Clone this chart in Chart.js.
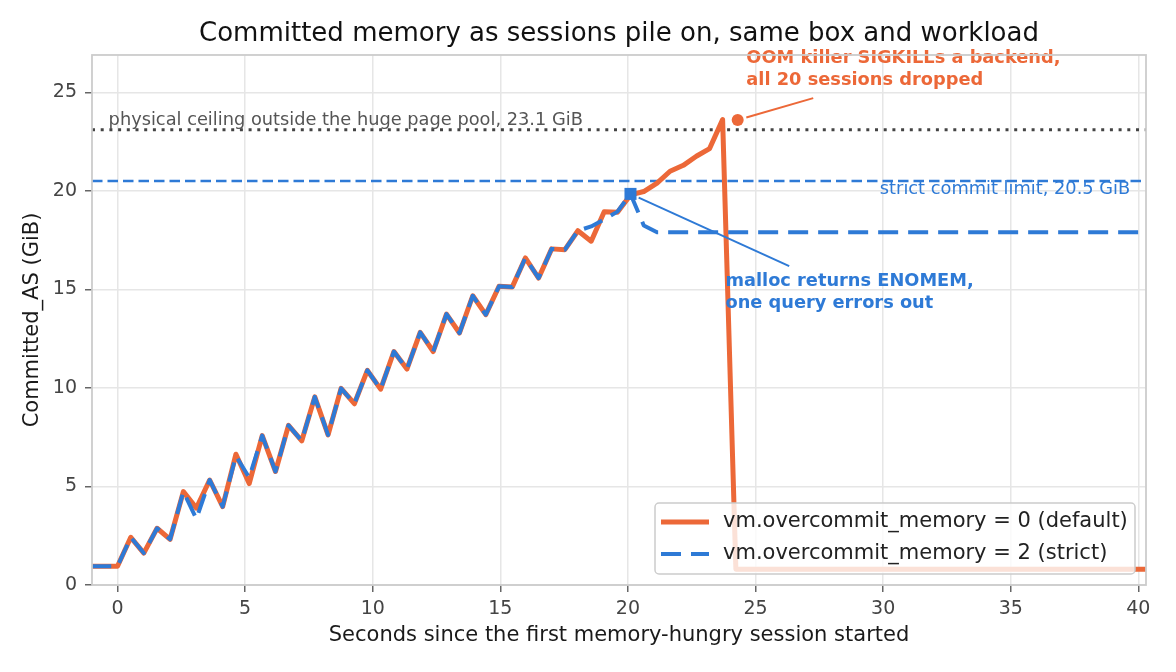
<!DOCTYPE html>
<html><head><meta charset="utf-8">
<script src="https://cdn.jsdelivr.net/npm/chart.js@4.4.1/dist/chart.umd.min.js"></script>
<style>html,body{margin:0;padding:0;background:#fff;}</style>
</head><body>
<canvas id="c" width="1176" height="672" style="width:1176px;height:672px;display:block"></canvas>
<script>
// ---------- data ----------
const titleText = 'Committed memory as sessions pile on, same box and workload';
const xTitle = 'Seconds since the first memory-hungry session started';
const yTitle = 'Committed_AS (GiB)';
const xTicks = [0, 5, 10, 15, 20, 25, 30, 35, 40];
const yTicks = [0, 5, 10, 15, 20, 25];

const defaultLabel = 'vm.overcommit_memory = 0 (default)';
const defaultTimes = [-1.03, -0.52, 0, 0.52, 1.03, 1.55, 2.06, 2.58, 3.09, 3.61, 4.12, 4.64, 5.16, 5.67, 6.19, 6.70, 7.22, 7.73, 8.25, 8.76, 9.28, 9.79, 10.31, 10.83, 11.34, 11.86, 12.37, 12.89, 13.40, 13.92, 14.43, 14.95, 15.47, 15.98, 16.50, 17.01, 17.53, 18.04, 18.56, 19.07, 19.59, 20.10, 20.62, 21.14, 21.65, 22.17, 22.68, 23.20, 23.71, 24.23, 40.5];
const defaultValues = [0.95, 0.95, 0.95, 2.42, 1.62, 2.88, 2.32, 4.74, 3.90, 5.33, 3.98, 6.64, 5.15, 7.58, 5.76, 8.10, 7.32, 9.55, 7.62, 9.98, 9.20, 10.89, 9.94, 11.85, 10.96, 12.82, 11.85, 13.75, 12.79, 14.68, 13.72, 15.16, 15.13, 16.60, 15.58, 17.06, 17.02, 17.98, 17.45, 18.95, 18.92, 19.80, 19.97, 20.40, 21.00, 21.30, 21.76, 22.15, 23.62, 0.80, 0.80];

const strictLabel = 'vm.overcommit_memory = 2 (strict)';
const strictTimes = [-1.03, -0.52, 0, 0.52, 1.03, 1.55, 2.06, 2.58, 3.09, 3.61, 4.12, 4.64, 5.16, 5.67, 6.19, 6.70, 7.22, 7.73, 8.25, 8.76, 9.28, 9.79, 10.31, 10.83, 11.34, 11.86, 12.37, 12.89, 13.40, 13.92, 14.43, 14.95, 15.47, 15.98, 16.50, 17.01, 17.53, 18.04, 18.56, 19.07, 19.59, 20.10, 20.62, 21.14, 40.5];
const strictValues = [0.95, 0.95, 0.95, 2.42, 1.62, 2.88, 2.32, 4.74, 3.35, 5.33, 3.98, 6.55, 5.45, 7.58, 5.76, 8.10, 7.32, 9.55, 7.62, 9.98, 9.20, 10.89, 9.94, 11.85, 10.96, 12.82, 11.85, 13.75, 12.79, 14.68, 13.72, 15.16, 15.13, 16.60, 15.58, 17.06, 17.02, 17.98, 18.20, 18.55, 18.95, 19.85, 18.25, 17.90, 17.90];

const enomemPoint = [20.10, 19.85];
const oomPoint = [24.30, 23.60];
const ceilingValue = 23.1;
const ceilingText = 'physical ceiling outside the huge page pool, 23.1 GiB';
const strictLimitValue = 20.5;
const strictLimitText = 'strict commit limit, 20.5 GiB';
const oomText = ['OOM killer SIGKILLs a backend,', 'all 20 sessions dropped'];
const enomemText = ['malloc returns ENOMEM,', 'one query errors out'];

// ---------- styles ----------
const ORANGE = '#ec6838';
const BLUE = '#2e7ad6';
const FONT = "'DejaVu Sans', sans-serif";

function pts(xs, ys) { return xs.map((x, i) => ({x: x, y: ys[i]})); }

const annotations = {
  id: 'annotations',
  beforeDatasetsDraw(chart) {
    const {ctx, chartArea: a, scales: {y}} = chart;
    ctx.save();
    // title centred over the plot area
    ctx.font = '26px ' + FONT; ctx.fillStyle = '#111'; ctx.textAlign = 'center'; ctx.textBaseline = 'middle';
    ctx.fillText(titleText, (a.left + a.right) / 2, a.top - 21);
    ctx.beginPath(); ctx.rect(a.left, a.top, a.right - a.left, a.bottom - a.top); ctx.clip();
    // ceiling dotted line
    let py = y.getPixelForValue(ceilingValue);
    ctx.strokeStyle = '#444'; ctx.lineWidth = 3; ctx.setLineDash([3, 5.7]);
    ctx.beginPath(); ctx.moveTo(a.left, py); ctx.lineTo(a.right, py); ctx.stroke();
    // strict limit dashed
    py = y.getPixelForValue(strictLimitValue);
    ctx.strokeStyle = BLUE; ctx.lineWidth = 2.5; ctx.setLineDash([10.5, 5]);
    ctx.beginPath(); ctx.moveTo(a.left, py); ctx.lineTo(a.right, py); ctx.stroke();
    ctx.restore();
  },
  afterDatasetsDraw(chart) {
    const {ctx, chartArea: a, scales: {x, y}} = chart;
    ctx.save();
    // reference line labels
    ctx.font = '17.8px ' + FONT;
    ctx.fillStyle = '#555'; ctx.textAlign = 'left'; ctx.textBaseline = 'alphabetic';
    ctx.fillText(ceilingText, x.getPixelForValue(-0.35), y.getPixelForValue(ceilingValue) - 5);
    ctx.fillStyle = BLUE; ctx.textAlign = 'right';
    ctx.fillText(strictLimitText, x.getPixelForValue(39.68), y.getPixelForValue(strictLimitValue) + 13);

    // connectors
    function connector(px, py, ex, ey, color) {
      const dx = ex - px, dy = ey - py, d = Math.hypot(dx, dy);
      const sx = px + dx / d * 9, sy = py + dy / d * 9;
      ctx.strokeStyle = color; ctx.lineWidth = 2; ctx.setLineDash([]);
      ctx.beginPath(); ctx.moveTo(sx, sy); ctx.lineTo(ex, ey); ctx.stroke();
    }
    connector(x.getPixelForValue(oomPoint[0]), y.getPixelForValue(oomPoint[1]),
              x.getPixelForValue(27.26), y.getPixelForValue(24.71), ORANGE);
    connector(x.getPixelForValue(enomemPoint[0]), y.getPixelForValue(enomemPoint[1]),
              x.getPixelForValue(26.32), y.getPixelForValue(16.18), BLUE);

    // annotation texts
    ctx.font = 'bold 17.8px ' + FONT; ctx.textAlign = 'left'; ctx.textBaseline = 'middle';
    ctx.fillStyle = ORANGE;
    let tx = x.getPixelForValue(24.64), ty = y.getPixelForValue(26.16);
    ctx.fillText(oomText[0], tx, ty - 11); ctx.fillText(oomText[1], tx, ty + 11);
    ctx.fillStyle = BLUE;
    tx = x.getPixelForValue(23.82); ty = y.getPixelForValue(14.86);
    ctx.fillText(enomemText[0], tx, ty - 11); ctx.fillText(enomemText[1], tx, ty + 11);

    // frame
    ctx.strokeStyle = '#cccccc'; ctx.lineWidth = 1.8;
    ctx.strokeRect(a.left, a.top, a.right - a.left, a.bottom - a.top);

    // legend
    const lw = 480, lh = 71;
    const lx = a.right - 11 - lw, ly = a.bottom - 11 - lh;
    ctx.beginPath();
    if (ctx.roundRect) ctx.roundRect(lx, ly, lw, lh, 4); else ctx.rect(lx, ly, lw, lh);
    ctx.fillStyle = 'rgba(255,255,255,0.8)'; ctx.fill();
    ctx.strokeStyle = '#cccccc'; ctx.lineWidth = 1.5; ctx.stroke();
    const ds = chart.data.datasets;
    const rows = [ds[0], ds[1]];
    rows.forEach((d, i) => {
      const cy = ly + 19 + i * 32;
      ctx.strokeStyle = d.borderColor; ctx.lineWidth = d.borderWidth;
      ctx.setLineDash(d.borderDash || []); ctx.lineCap = 'butt';
      ctx.beginPath(); ctx.moveTo(lx + 6, cy); ctx.lineTo(lx + 54, cy); ctx.stroke();
      ctx.setLineDash([]);
      ctx.fillStyle = '#222'; ctx.font = '21px ' + FONT; ctx.textAlign = 'left'; ctx.textBaseline = 'middle';
      ctx.fillText(d.label, lx + 68, cy);
    });
    ctx.restore();
  }
};

new Chart(document.getElementById('c'), {
  type: 'line',
  data: {
    datasets: [
      { label: defaultLabel, data: pts(defaultTimes, defaultValues), borderColor: ORANGE, backgroundColor: ORANGE,
        borderWidth: 5, pointRadius: 0, tension: 0, borderJoinStyle: 'round', order: 3, clip: 0 },
      { label: strictLabel, data: pts(strictTimes, strictValues), borderColor: BLUE, backgroundColor: BLUE,
        borderWidth: 4, borderDash: [20, 10], pointRadius: 0, tension: 0, borderJoinStyle: 'round', order: 2, clip: 0 },
      { label: 'enomem', data: [{x: enomemPoint[0], y: enomemPoint[1]}], showLine: false,
        pointStyle: 'rect', pointRadius: 8.5, backgroundColor: BLUE, borderColor: BLUE, borderWidth: 0, order: 1 },
      { label: 'oom', data: [{x: oomPoint[0], y: oomPoint[1]}], showLine: false,
        pointStyle: 'circle', pointRadius: 6, backgroundColor: ORANGE, borderColor: ORANGE, borderWidth: 0, order: 1 }
    ]
  },
  options: {
    responsive: false, animation: false, devicePixelRatio: 1,
    layout: { padding: { left: 0, right: 30, top: 55, bottom: 0 } },
    plugins: {
      legend: { display: false },
      tooltip: { enabled: false },
      title: { display: false }
    },
    scales: {
      x: {
        type: 'linear', min: -1, max: 40.3,
        afterBuildTicks: s => { s.ticks = xTicks.map(v => ({value: v})); },
        afterFit: s => { s.height = 87; },
        grid: { color: '#e6e6e6', lineWidth: 1.5, tickColor: '#666', tickLength: 7, drawTicks: true },
        border: { display: false },
        ticks: { color: '#444', font: { family: FONT, size: 19 }, padding: 6, maxRotation: 0, autoSkip: false },
        title: { display: true, text: xTitle, color: '#1a1a1a', font: { family: FONT, size: 21 }, padding: { top: 0, bottom: 23.4 } }
      },
      y: {
        type: 'linear', min: 0, max: 26.9,
        afterBuildTicks: s => { s.ticks = yTicks.map(v => ({value: v})); },
        afterFit: s => { s.width = 92; },
        grid: { color: '#e6e6e6', lineWidth: 1.5, tickColor: '#666', tickLength: 7, drawTicks: true },
        border: { display: false },
        ticks: { color: '#444', font: { family: FONT, size: 19 }, padding: 8, autoSkip: false },
        title: { display: true, text: yTitle, color: '#1a1a1a', font: { family: FONT, size: 21 }, padding: { top: 20.4, bottom: 0 } }
      }
    }
  },
  plugins: [annotations]
});
</script>
</body></html>
